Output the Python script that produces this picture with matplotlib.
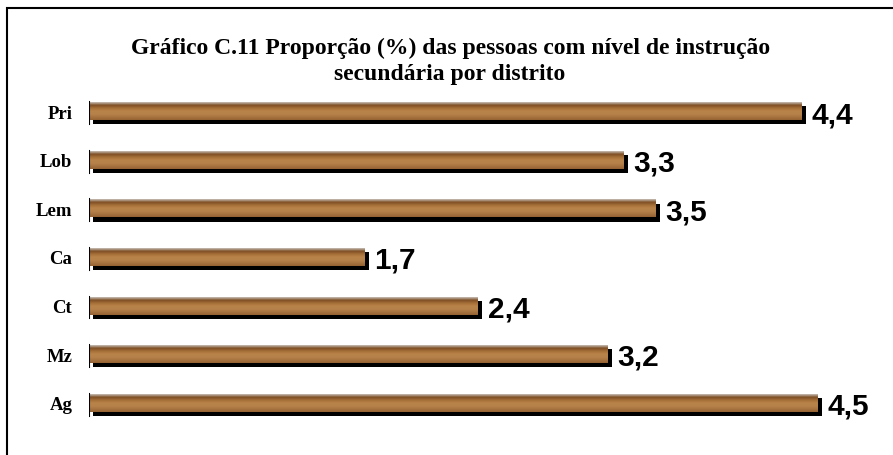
import matplotlib
matplotlib.use("Agg")
import matplotlib.pyplot as plt
import matplotlib.patheffects as pe
from matplotlib.colors import LinearSegmentedColormap
from matplotlib.patches import Rectangle
import numpy as np

# data (top to bottom as in the chart)
districts = ['Pri', 'Lob', 'Lem', 'Ca', 'Ct', 'Mz', 'Ag']
values = [4.4, 3.3, 3.5, 1.7, 2.4, 3.2, 4.5]
value_labels = ['4,4', '3,3', '3,5', '1,7', '2,4', '3,2', '4,5']
title = 'Gráfico C.11 Proporção (%) das pessoas com nível de instrução\nsecundária por distrito'

serif = ['Liberation Serif', 'DejaVu Serif']
sans = ['Liberation Sans', 'DejaVu Sans']

fig = plt.figure(figsize=(8.93, 4.56), dpi=100)
ax = fig.add_axes([89 / 893, 28 / 456, 777.6 / 893, 340 / 456])

# outer frame of the chart area
fig.patches.append(Rectangle((7 / 893, -0.1), 1.2, 1.1 - 8.5 / 456,
                             transform=fig.transFigure, fill=False,
                             edgecolor='black', lw=1.5))

fig.text(0.504, 1 - 38 / 456, title, ha='center', va='top',
         family=serif, weight='bold', fontsize=17, linespacing=1.3)

# wood-ish vertical gradient for the bars
wood = LinearSegmentedColormap.from_list(
    'wood', ['#c8c0b8', '#7e4f24', '#a46e38', '#b9844a', '#b7824a', '#a87440', '#946232'])
grad = np.linspace(0, 1, 64).reshape(-1, 1)
img = np.repeat(grad, 2, axis=1)

ypos = np.arange(len(districts))[::-1]
h = 0.37
bars = ax.barh(ypos, values, height=h, color='#b07a3c', edgecolor='none',
               zorder=2)
for b in bars:
    b.set_path_effects([pe.SimplePatchShadow(offset=(3, -3), shadow_rgbFace='black',
                                             alpha=1.0), pe.Normal()])
    x0, y0 = b.get_x(), b.get_y()
    w, hh = b.get_width(), b.get_height()
    im = ax.imshow(img, cmap=wood, aspect='auto', extent=(x0, x0 + w, y0, y0 + hh),
                   zorder=3, interpolation='bilinear', vmin=0, vmax=1)
    im.set_clip_path(b)
    ax.plot([0, 0], [y0 - 0.08, y0 + hh], color='black', lw=1.5, zorder=4)

for y, v, lab in zip(ypos, values, value_labels):
    ax.annotate(lab, (v, y), xytext=(7, -2), textcoords='offset points',
                ha='left', va='center', family=sans, weight='bold', fontsize=21.5)

ax.set_xlim(0, 4.8)
ax.set_ylim(-0.5, 6.5)
ax.set_yticks(ypos)
ax.set_yticklabels(districts, family=serif, weight='bold', fontsize=13.5)
ax.tick_params(axis='y', length=0, pad=12)
ax.set_xticks([])
for s in ax.spines.values():
    s.set_visible(False)

fig.savefig('out.png', dpi=100)
